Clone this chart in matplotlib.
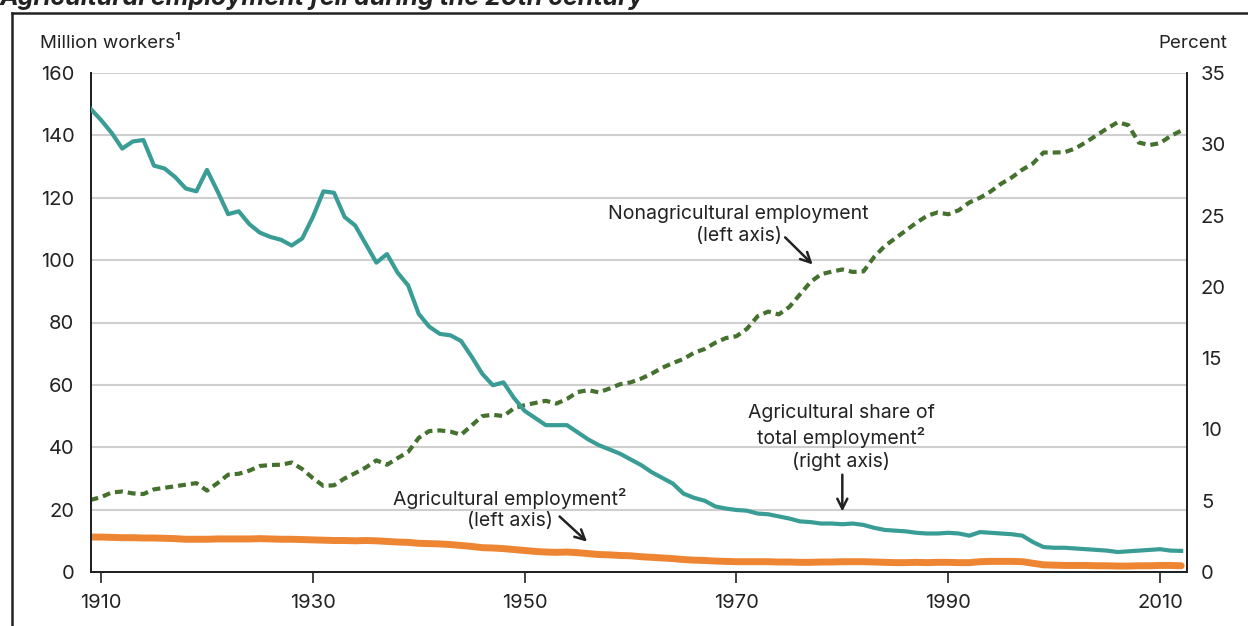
import numpy as np
import matplotlib
matplotlib.use("Agg")
import matplotlib.pyplot as plt
from matplotlib.lines import Line2D

plt.rcParams['font.family'] = ['Inter', 'DejaVu Sans']

years = np.arange(1909, 2013)

# agricultural share of total employment, percent (right axis)
ag_share = [32.5, 31.7, 30.8, 29.7, 30.2, 30.3, 28.5, 28.3, 27.7, 26.9,
            26.7, 28.2, 26.7, 25.1, 25.3, 24.4, 23.8, 23.5, 23.3, 22.9,
            23.4, 24.9, 26.7, 26.6, 24.9, 24.3, 23.0, 21.7, 22.3, 21.0,
            20.1, 18.1, 17.2, 16.7, 16.6, 16.2, 15.1, 13.9, 13.1, 13.3,
            12.2, 11.3, 10.8, 10.3, 10.3, 10.3, 9.8, 9.3, 8.9, 8.6,
            8.3, 7.9, 7.5, 7.0, 6.6, 6.2, 5.5, 5.2, 5.0, 4.6,
            4.45, 4.35, 4.3, 4.1, 4.05, 3.9, 3.75, 3.55, 3.5, 3.4,
            3.4, 3.35, 3.4, 3.3, 3.1, 2.95, 2.9, 2.85, 2.75, 2.7,
            2.7, 2.75, 2.7, 2.55, 2.8, 2.75, 2.7, 2.65, 2.55, 2.1,
            1.75, 1.7, 1.7, 1.65, 1.6, 1.55, 1.5, 1.4, 1.45, 1.5,
            1.55, 1.6, 1.5, 1.48]

# agricultural employment, million workers (left axis)
ag_emp = [11.2, 11.2, 11.1, 11.0, 11.0, 10.9, 10.9, 10.8, 10.7, 10.5,
          10.5, 10.5, 10.6, 10.6, 10.6, 10.6, 10.7, 10.6, 10.5, 10.5,
          10.4, 10.3, 10.2, 10.1, 10.1, 10.0, 10.1, 10.0, 9.8, 9.6,
          9.5, 9.2, 9.1, 9.0, 8.8, 8.5, 8.2, 7.8, 7.7, 7.5,
          7.2, 6.9, 6.6, 6.4, 6.3, 6.4, 6.2, 5.9, 5.6, 5.5,
          5.3, 5.2, 4.9, 4.7, 4.5, 4.3, 4.0, 3.8, 3.7, 3.5,
          3.4, 3.3, 3.3, 3.3, 3.3, 3.2, 3.2, 3.1, 3.1, 3.2,
          3.2, 3.3, 3.3, 3.3, 3.2, 3.1, 3.0, 3.0, 3.1, 3.0,
          3.1, 3.1, 3.0, 3.0, 3.3, 3.4, 3.4, 3.4, 3.3, 2.8,
          2.3, 2.2, 2.1, 2.1, 2.1, 2.0, 2.0, 1.9, 1.9, 2.0,
          2.0, 2.1, 2.1, 2.0]

# nonagricultural employment, million workers (left axis)
nonag_emp = [23.1, 24.0, 25.5, 25.8, 25.2, 25.0, 26.5, 27.0, 27.5, 28.0,
             28.5, 26.1, 28.5, 31.2, 31.5, 32.5, 34.0, 34.3, 34.4, 35.1,
             33.0, 30.1, 27.6, 27.8, 30.0, 31.7, 33.5, 35.8, 34.4, 36.5,
             38.5, 43.0, 45.2, 45.4, 45.0, 44.0, 47.0, 50.0, 50.4, 50.0,
             52.5, 53.5, 54.2, 54.9, 54.0, 55.5, 57.7, 58.3, 57.6, 58.8,
             60.2, 60.8, 62.0, 63.6, 65.5, 67.0, 68.3, 70.3, 71.5, 73.5,
             75.0, 75.6, 78.0, 82.0, 83.5, 82.6, 85.0, 89.0, 93.0, 95.5,
             96.3, 97.0, 96.2, 96.4, 101.0, 104.5, 107.0, 109.5, 112.0, 114.2,
             115.3, 114.7, 116.0, 118.5, 120.0, 122.0, 124.5, 126.5, 129.0, 131.0,
             134.5, 134.5, 134.6, 135.8, 137.8, 140.0, 142.2, 144.2, 143.3, 137.7,
             136.9, 137.5, 139.8, 141.5]

xticks = [1910, 1930, 1950, 1970, 1990, 2010]
left_ticks = [0, 20, 40, 60, 80, 100, 120, 140, 160]
right_ticks = [0, 5, 10, 15, 20, 25, 30, 35]

TEAL = "#3a9d95"
ORANGE = "#ed8532"
GREEN = "#44712e"
INK = "#222222"

fig = plt.figure(figsize=(12.48, 6.26), dpi=100)
ax = fig.add_axes([91 / 1248, 1 - 572 / 626, (1187 - 91) / 1248, (572 - 73) / 626])
ax2 = ax.twinx()

ax.plot(years, nonag_emp, color=GREEN, lw=3, dashes=(1.9, 1.2), zorder=3)
ax.plot(years, ag_emp, color=ORANGE, lw=5, solid_capstyle='round', zorder=3)
ax2.plot(years, ag_share, color=TEAL, lw=3, zorder=3)

ax.set_xlim(1909.05, 2012.55)
ax.set_ylim(0, 160)
ax2.set_ylim(0, 35)
ax.set_xticks(xticks)
ax.set_yticks(left_ticks)
ax2.set_yticks(right_ticks)

for g in left_ticks[1:]:
    ax.axhline(g, color="#cfcfcf", lw=1.5, zorder=1)

for a in (ax, ax2):
    a.spines['top'].set_visible(False)
    for s in ('left', 'right', 'bottom'):
        a.spines[s].set_color(INK)
        a.spines[s].set_linewidth(1.4)

ax.tick_params(axis='x', direction='out', length=8, width=1.2, color=INK,
               pad=8, labelsize=14.5, labelcolor=INK)
ax.tick_params(axis='y', length=0, pad=12, labelsize=14.5, labelcolor=INK)
ax2.tick_params(axis='y', length=0, pad=10, labelsize=14.5, labelcolor=INK)

fig.text(40 / 1248, 1 - 48 / 626, "Million workers\u00b9", fontsize=13.5, color=INK,
         ha='left', va='baseline')
fig.text(1227 / 1248, 1 - 48 / 626, "Percent", fontsize=13.5, color=INK,
         ha='right', va='baseline')

arrow = dict(arrowstyle='->', lw=1.8, color=INK, mutation_scale=18,
             shrinkA=0, shrinkB=0)
ax.text(1970.2, 111.3, "Nonagricultural employment\n(left axis)", fontsize=14,
        color=INK, ha='center', va='center', linespacing=1.28)
ax.annotate("", xy=(1977.2, 98.6), xytext=(1974.6, 107.3), arrowprops=arrow)

ax.text(1979.9, 43.2, "Agricultural share of\ntotal employment\u00b2\n(right axis)",
        fontsize=14, color=INK, ha='center', va='center', linespacing=1.28)
ax.annotate("", xy=(1980.0, 19.4), xytext=(1980.0, 31.2), arrowprops=arrow)

ax.text(1948.6, 20.2, "Agricultural employment\u00b2\n(left axis)", fontsize=14,
        color=INK, ha='center', va='center', linespacing=1.28)
ax.annotate("", xy=(1955.9, 9.7), xytext=(1953.3, 17.8), arrowprops=arrow)

# title cut off at the top, and the frame around the chart
fig.text(0.0, 1 - 5 / 626, "Agricultural employment fell during the 20th century",
         fontsize=18, fontweight='bold', fontstyle='italic', color=INK,
         ha='left', va='baseline')
fig.add_artist(Line2D([12 / 1248, 12 / 1248], [0, 1 - 13 / 626],
                      transform=fig.transFigure, color=INK, lw=1.8))
fig.add_artist(Line2D([12 / 1248, 1], [1 - 13 / 626, 1 - 13 / 626],
                      transform=fig.transFigure, color=INK, lw=1.8))

fig.savefig("out.png", dpi=100)
